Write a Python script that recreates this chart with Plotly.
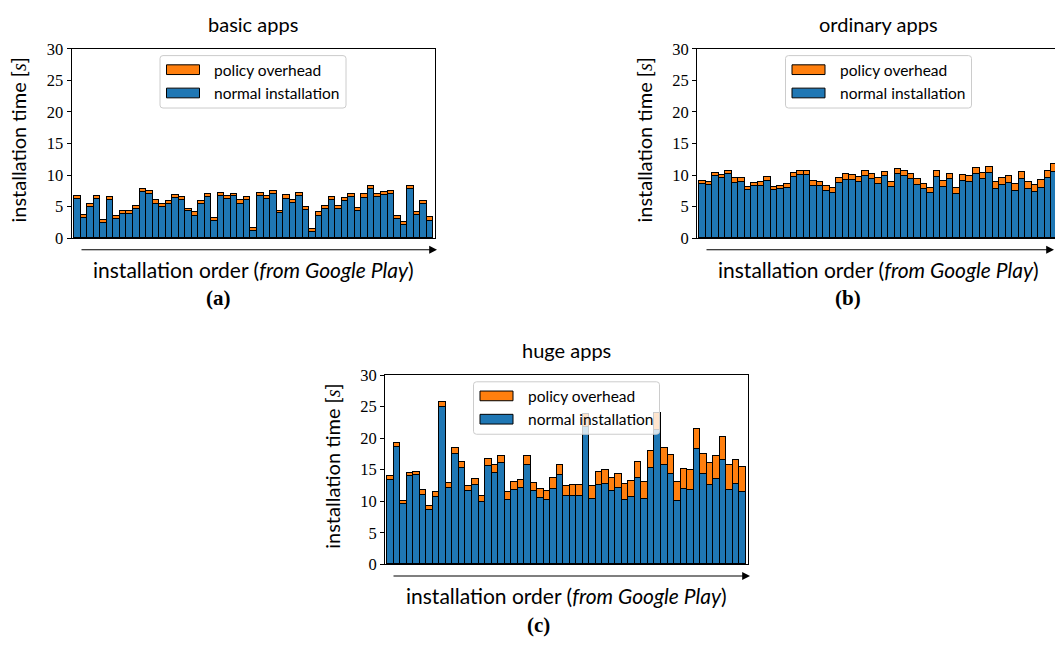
import plotly.graph_objects as go

W, H = 1055, 652

# ---- data: installation time per app (seconds), in install order ----
basic_normal = [6.2, 3.2, 5.0, 6.2, 2.5, 6.0, 3.1, 3.9, 3.85, 4.6,
                7.3, 7.0, 5.5, 5.0, 5.5, 6.4, 6.1, 4.3, 3.6, 5.4,
                6.5, 2.7, 6.7, 6.3, 6.7, 5.5, 6.1, 1.1, 6.7, 6.3,
                7.0, 3.95, 6.3, 5.6, 6.7, 4.5, 1.0, 3.6, 4.6, 6.15,
                4.7, 5.95, 6.55, 4.3, 6.45, 7.75, 6.6, 6.85, 7.0, 3.0,
                2.15, 7.85, 3.65, 5.45, 2.8]
basic_overhead = [0.45, 0.45, 0.5, 0.45, 0.4, 0.5, 0.5, 0.45, 0.45, 0.5,
                  0.55, 0.5, 0.55, 0.45, 0.45, 0.45, 0.45, 0.4, 0.5, 0.45,
                  0.5, 0.5, 0.5, 0.4, 0.4, 0.55, 0.5, 0.5, 0.5, 0.4,
                  0.55, 0.45, 0.5, 0.5, 0.5, 0.4, 0.5, 0.5, 0.5, 0.45,
                  0.5, 0.45, 0.5, 0.5, 0.55, 0.5, 0.5, 0.5, 0.5, 0.55,
                  0.45, 0.5, 0.45, 0.5, 0.5]

ordinary_normal = [8.6, 8.5, 9.8, 9.5, 10.15, 8.8, 9.0, 7.65, 8.3, 8.3,
                   9.05, 7.6, 7.8, 8.0, 9.75, 10.05, 10.1, 8.35, 8.25, 7.55,
                   7.25, 8.7, 9.3, 9.2, 8.9, 9.95, 9.45, 8.65, 9.8, 8.15,
                   10.2, 9.9, 9.45, 8.5, 7.75, 7.2, 9.75, 8.2, 9.35, 7.1,
                   9.1, 8.9, 10.2, 9.4, 10.3, 7.85, 8.5, 8.8, 7.55, 9.45,
                   7.85, 7.35, 8.0, 9.55, 10.55]
ordinary_overhead = [0.45, 0.45, 0.5, 0.55, 0.5, 0.7, 0.6, 0.55, 0.45, 0.55,
                     0.6, 0.6, 0.55, 0.55, 0.65, 0.6, 0.6, 0.7, 0.7, 0.7,
                     0.8, 0.8, 0.9, 0.8, 0.85, 0.7, 0.8, 0.85, 0.75, 0.7,
                     0.8, 0.75, 0.8, 0.85, 0.8, 0.8, 0.9, 0.95, 0.9, 0.95,
                     1.0, 1.05, 0.95, 1.0, 1.0, 1.0, 1.1, 1.1, 1.1, 1.1,
                     1.1, 1.15, 1.2, 1.1, 1.15]

huge_normal = [13.4, 18.6, 9.5, 13.95, 14.1, 11.0, 8.6, 10.7, 24.9, 12.05,
               17.5, 15.3, 11.55, 12.55, 9.95, 15.65, 14.55, 16.0, 10.15, 11.7,
               12.1, 15.75, 11.55, 10.5, 10.15, 11.95, 14.1, 10.75, 10.75, 10.75,
               21.7, 10.4, 12.55, 12.8, 11.55, 12.05, 10.25, 10.7, 13.6, 10.4,
               15.3, 21.3, 15.7, 14.3, 10.1, 12.0, 11.8, 18.2, 14.25, 12.5,
               13.45, 16.5, 11.75, 12.75, 11.45]
huge_overhead = [0.55, 0.6, 0.6, 0.55, 0.6, 0.7, 0.7, 0.7, 0.9, 0.85,
                 0.95, 0.85, 0.85, 0.95, 0.95, 1.0, 1.15, 1.2, 1.25, 1.3,
                 1.3, 1.45, 1.35, 1.45, 1.5, 1.65, 1.65, 1.65, 1.8, 1.8,
                 2.1, 1.95, 2.05, 2.2, 2.2, 2.3, 2.45, 2.5, 2.6, 2.6,
                 2.7, 2.7, 2.8, 2.95, 2.9, 3.1, 3.2, 3.3, 3.3, 3.5,
                 3.65, 3.7, 3.95, 3.85, 4.05]

panel_titles = ["basic apps", "ordinary apps", "huge apps"]
panel_tags = ["(a)", "(b)", "(c)"]
legend_labels = ["policy overhead", "normal installation"]
y_ticks = [0, 5, 10, 15, 20, 25, 30]

BLUE = "#1f77b4"
ORANGE = "#ff7f0e"
SANS = "Lato, 'DejaVu Sans', sans-serif"
SERIF = "'Liberation Serif', 'DejaVu Serif', serif"


def fx(px):
    return px / W


def fy(py):
    return 1 - py / H


# plot boxes in pixels (left, right, top, bottom) plus decorations
panels = [
    dict(normal=basic_normal, overhead=basic_overhead, left=71.5, right=435, top=41, bottom=236,
         xr=[-0.85, 54.85], rspine=True, tag_x=218, ylab_x=18, arrow=(80, 437)),
    dict(normal=ordinary_normal, overhead=ordinary_overhead, left=697, right=1055, top=41, bottom=236,
         xr=[-0.85, 54.08], rspine=False, tag_x=848, ylab_x=644, arrow=(705, 1060)),
    dict(normal=huge_normal, overhead=huge_overhead, left=385, right=748, top=377, bottom=572,
         xr=[-0.85, 54.85], rspine=True, tag_x=538.5, ylab_x=332, arrow=(392, 750)),
]

fig = go.Figure()
layout = dict(
    width=W, height=H, margin=dict(l=0, r=0, t=0, b=0),
    paper_bgcolor="white", plot_bgcolor="white",
    barmode="stack", bargap=0, showlegend=False,
)
shapes = []
annotations = []

for i, p in enumerate(panels):
    n = i + 1
    xa = "x" if n == 1 else f"x{n}"
    ya = "y" if n == 1 else f"y{n}"
    idx = list(range(len(p["normal"])))
    fig.add_trace(go.Bar(x=idx, y=p["normal"], width=1, xaxis=xa, yaxis=ya,
                         marker=dict(color=BLUE, line=dict(color="black", width=1)),
                         name=legend_labels[1]))
    fig.add_trace(go.Bar(x=idx, y=p["overhead"], width=1, xaxis=xa, yaxis=ya,
                         marker=dict(color=ORANGE, line=dict(color="black", width=1)),
                         name=legend_labels[0]))

    xkey = "xaxis" if n == 1 else f"xaxis{n}"
    ykey = "yaxis" if n == 1 else f"yaxis{n}"
    layout[xkey] = dict(domain=[fx(p["left"]), fx(p["right"])], range=p["xr"], anchor=ya,
                        showticklabels=False, ticks="", showgrid=False, zeroline=False,
                        showline=True, mirror=True, linecolor="black", linewidth=1)
    layout[ykey] = dict(domain=[fy(p["bottom"]), fy(p["top"])], range=[0, 30], anchor=xa,
                        tickvals=y_ticks, ticks="outside", ticklen=4, tickwidth=1, tickcolor="black",
                        tickfont=dict(family=SERIF, size=16.5, color="black"),
                        showgrid=False, zeroline=False, showline=True, mirror=p["rspine"],
                        linecolor="black", linewidth=1)

    cx = (p["left"] + 363 / 2) if not p["rspine"] else (p["left"] + p["right"]) / 2
    cy = (p["top"] + p["bottom"]) / 2

    # panel title
    annotations.append(dict(text=panel_titles[i], x=fx(cx), y=fy(p["top"] - 26), xref="paper", yref="paper",
                            xanchor="center", yanchor="middle", showarrow=False,
                            font=dict(family=SANS, size=20, color="black")))
    # y label
    annotations.append(dict(text="installation time [<span style=\"font-family:'Liberation Serif'\"><i>s</i></span>]",
                            x=fx(p["ylab_x"]), y=fy(cy - 3), xref="paper", yref="paper", textangle=-90,
                            xanchor="center", yanchor="middle", showarrow=False,
                            font=dict(family=SANS, size=20, color="black")))
    # order arrow under the axis
    a0, a1 = p["arrow"]
    ay = p["bottom"] + 12
    annotations.append(dict(text="", x=fx(a1), y=fy(ay), xref="paper", yref="paper",
                            ax=a0 - a1, ay=0, axref="pixel", ayref="pixel",
                            showarrow=True, arrowhead=2, arrowsize=1.3, arrowwidth=1.2, arrowcolor="black"))
    # x label
    annotations.append(dict(text="installation order (<i>from Google Play</i>)", x=fx(cx), y=fy(p["bottom"] + 32),
                            xref="paper", yref="paper", xanchor="center", yanchor="middle", showarrow=False,
                            font=dict(family=SANS, size=21, color="black")))
    # sub-figure tag
    annotations.append(dict(text=f"<b>{panel_tags[i]}</b>", x=fx(p["tag_x"]), y=fy(p["bottom"] + 62),
                            xref="paper", yref="paper", xanchor="center", yanchor="middle", showarrow=False,
                            font=dict(family=SERIF, size=21, color="black")))

    # legend box with rounded corners
    bl, bt = p["left"] + 88.5, p["top"] + 7
    br, bb = bl + 186, bt + 54
    r = 3
    path = (f"M {fx(bl + r)} {fy(bt)} L {fx(br - r)} {fy(bt)} Q {fx(br)} {fy(bt)} {fx(br)} {fy(bt + r)} "
            f"L {fx(br)} {fy(bb - r)} Q {fx(br)} {fy(bb)} {fx(br - r)} {fy(bb)} "
            f"L {fx(bl + r)} {fy(bb)} Q {fx(bl)} {fy(bb)} {fx(bl)} {fy(bb - r)} "
            f"L {fx(bl)} {fy(bt + r)} Q {fx(bl)} {fy(bt)} {fx(bl + r)} {fy(bt)} Z")
    shapes.append(dict(type="path", path=path, xref="paper", yref="paper", layer="above",
                       fillcolor="rgba(255,255,255,0.8)", line=dict(color="#cccccc", width=1)))
    for k, (lab, col) in enumerate(zip(legend_labels, [ORANGE, BLUE])):
        sy = bt + 9.5 + k * 24
        shapes.append(dict(type="rect", xref="paper", yref="paper", layer="above",
                           x0=fx(bl + 6.5), x1=fx(bl + 39.5), y0=fy(sy), y1=fy(sy + 10),
                           fillcolor=col, line=dict(color="black", width=1)))
        annotations.append(dict(text=lab, x=fx(bl + 52), y=fy(sy + 5), xref="paper", yref="paper",
                                xanchor="left", yanchor="middle", showarrow=False,
                                font=dict(family=SANS, size=15.5, color="black")))

layout["shapes"] = shapes
layout["annotations"] = annotations
fig.update_layout(**layout)
fig.write_html("out.html")
